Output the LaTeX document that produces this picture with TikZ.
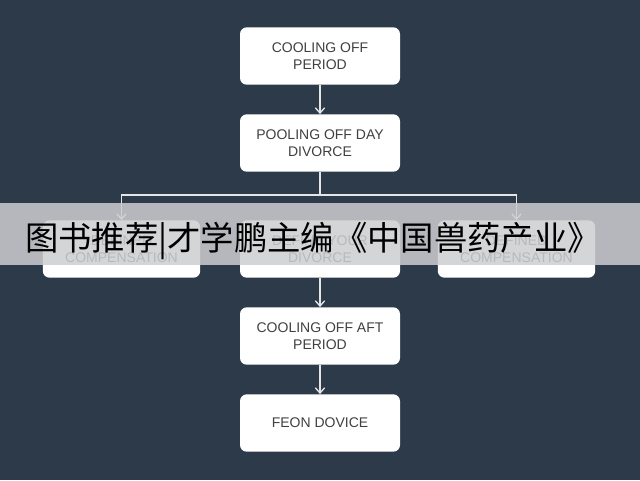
\documentclass[tikz,border=0pt]{standalone}
\usepackage{fontspec}
\setmainfont{Liberation Sans}
\newfontfamily\cjk{Noto Sans CJK SC}
\begin{document}
\begin{tikzpicture}[x=0.75pt,y=-0.75pt,
  box/.style={draw=none,fill=white,rounded corners=5pt,minimum width=120pt,minimum height=43pt,align=center,font=\fontsize{10.5}{12.5}\selectfont,text=black!75},
  conn/.style={draw=white!90!black,line width=1pt,-{Straight Barb[length=4pt,width=7pt]}}]
\usetikzlibrary{arrows.meta}
\fill[fill={rgb,255:red,45;green,58;blue,74}] (0,0) rectangle (640,480);
\useasboundingbox (0,0) rectangle (640,480);
\node[box] (a) at (320,56) {COOLING OFF\\PERIOD};
\node[box] (b) at (320,143) {POOLING OFF DAY\\DIVORCE};
\node[box,minimum width=118pt] (l) at (121.5,249) {DEFINED\\COMPENSATION};
\node[box] (m) at (320,249) {DEFINE YOUR\\DIVORCE};
\node[box,minimum width=118pt] (r) at (516.5,249) {DEFINED\\COMPENSATION};
\node[box] (d) at (320,336) {COOLING OFF AFT\\PERIOD};
\node[box] (e) at (320,423) {FEON DOVICE};
\coordinate (j) at (320,195);
\draw[conn] (a) -- (b);
\draw[draw=white!90!black,line width=1pt] (b) -- (j);
\draw[conn] (j) -| (l);
\draw[conn] (j) -| (r);
\draw[conn] (m) -- (d);
\draw[conn] (d) -- (e);
\fill[fill={rgb,255:red,205;green,206;blue,208},opacity=0.85] (0,203) rectangle (640,265);
\node[font=\cjk\fontsize{25}{29}\selectfont,text=black,inner sep=0] (t) at (313,241) {图书推荐|才学鹏主编《中国兽药产业》};
\end{tikzpicture}
\end{document}
